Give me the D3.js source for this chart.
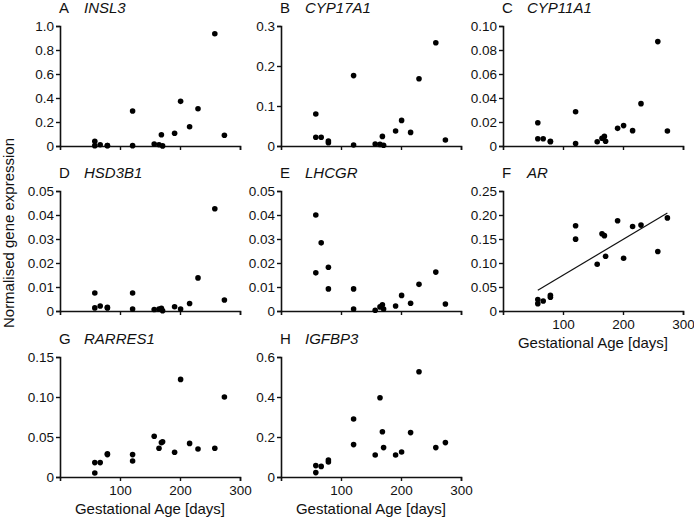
<!DOCTYPE html>
<html><head><meta charset="utf-8">
<script src="https://cdn.jsdelivr.net/npm/d3@7"></script>
<style>
html,body{margin:0;padding:0;background:#fff;}
text{font-family:"Liberation Sans",Arial,sans-serif;fill:#111;}
</style></head>
<body><svg id="chart" width="694" height="524"></svg>
<script>
// Gestational age (days) of each sample
const days = [58, 58, 67, 79, 79, 121, 121, 157, 165, 169, 171, 191, 201, 216, 230, 258, 274];

// Normalised gene expression per gene (same sample order as days)
const INSL3   = [0.040, 0.003, 0.011, 0.004, 0.003, 0.292, 0.003, 0.017, 0.011, 0.094, 0.001, 0.106, 0.372, 0.161, 0.311, 0.936, 0.089];
const CYP17A1 = [0.080, 0.022, 0.022, 0.0125, 0.008, 0.176, 0.0025, 0.005, 0.004, 0.024, 0.002, 0.0375, 0.064, 0.034, 0.168, 0.258, 0.015];
const CYP11A1 = [0.0194, 0.006, 0.006, 0.004, 0.0035, 0.0286, 0.002, 0.0036, 0.0064, 0.008, 0.004, 0.0147, 0.017, 0.0128, 0.0353, 0.087, 0.0125];
const HSD3B1  = [0.0075, 0.0013, 0.0021, 0.0013, 0.0015, 0.0075, 0.0008, 0.0006, 0.0008, 0.0011, 0.0001, 0.0018, 0.0008, 0.0031, 0.0138, 0.0426, 0.0046];
const LHCGR   = [0.0159, 0.040, 0.0284, 0.0182, 0.0092, 0.0092, 0.0008, 0.0003, 0.0017, 0.0026, 0.0008, 0.0021, 0.0065, 0.0032, 0.0111, 0.0162, 0.0029];
const AR      = [0.0237, 0.0153, 0.0209, 0.0327, 0.0286, 0.1776, 0.1497, 0.0975, 0.161, 0.157, 0.114, 0.188, 0.110, 0.176, 0.179, 0.124, 0.194];
const RARRES1 = [0.005, 0.018, 0.018, 0.029, 0.028, 0.028, 0.020, 0.051, 0.036, 0.043, 0.044, 0.031, 0.122, 0.042, 0.035, 0.036, 0.100];
const IGFBP3  = [0.022, 0.057, 0.053, 0.085, 0.075, 0.290, 0.162, 0.110, 0.396, 0.226, 0.147, 0.110, 0.125, 0.222, 0.526, 0.147, 0.172];

// Panel letters, gene names, y-axis tick labels
const letters = ["A", "B", "C", "D", "E", "F", "G", "H"];
const genes   = ["INSL3", "CYP17A1", "CYP11A1", "HSD3B1", "LHCGR", "AR", "RARRES1", "IGFBP3"];
const series  = [INSL3, CYP17A1, CYP11A1, HSD3B1, LHCGR, AR, RARRES1, IGFBP3];
const yTicks = [
  ["0", "0.2", "0.4", "0.6", "0.8", "1.0"],
  ["0", "0.1", "0.2", "0.3"],
  ["0", "0.02", "0.04", "0.06", "0.08", "0.10"],
  ["0", "0.01", "0.02", "0.03", "0.04", "0.05"],
  ["0", "0.01", "0.02", "0.03", "0.04", "0.05"],
  ["0", "0.05", "0.10", "0.15", "0.20", "0.25"],
  ["0", "0.05", "0.10", "0.15"],
  ["0", "0.2", "0.4", "0.6"]
];
const xTicks = [100, 200, 300];
const xTitle = "Gestational Age [days]";
const yTitle = "Normalised gene expression";
const regressionPanel = "AR";

// layout
const colX = [60, 281, 503];
const rowY = [26, 191, 357];
const pw = 180, ph = 120;
const svg = d3.select("#chart");

series.forEach((vals, i) => {
  const col = i % 3, row = Math.floor(i / 3);
  const g = svg.append("g").attr("transform", `translate(${colX[col]},${rowY[row]})`);
  const tickNums = yTicks[i].map(Number);
  const yMax = d3.max(tickNums);
  const x = d3.scaleLinear().domain([0, 300]).range([0, pw]);
  const y = d3.scaleLinear().domain([0, yMax]).range([ph, 0]);
  const showXLabels = i >= 5;

  const yAxis = g.append("g").call(d3.axisLeft(y).tickValues(tickNums)
      .tickFormat((d, k) => yTicks[i][k]).tickSizeOuter(0).tickSize(4).tickPadding(2));
  const xAxis = g.append("g").attr("transform", `translate(0,${ph})`)
      .call(d3.axisBottom(x).tickValues(xTicks).tickSizeOuter(0).tickSize(4).tickPadding(4)
        .tickFormat(showXLabels ? d3.format("d") : () => ""));
  [yAxis, xAxis].forEach(a => {
    a.select(".domain").attr("stroke", "#111").attr("stroke-width", 1.6);
    a.selectAll(".tick line").attr("stroke", "#111").attr("stroke-width", 1.4);
    a.selectAll("text").attr("font-size", 13.5).attr("fill", "#111")
      .attr("font-family", "Liberation Sans, Arial, sans-serif");
  });

  g.selectAll("circle.pt").data(vals).join("circle").attr("class", "pt")
    .attr("cx", (d, k) => x(days[k])).attr("cy", d => y(d)).attr("r", 2.8).attr("fill", "#000");

  if (genes[i] === regressionPanel) {
    const mx = d3.mean(days), my = d3.mean(vals);
    const sxy = d3.sum(days, (d, k) => (d - mx) * (vals[k] - my));
    const sxx = d3.sum(days, d => (d - mx) * (d - mx));
    const b = sxy / sxx, a0 = my - b * mx;
    const ext = d3.extent(days);
    g.append("line").attr("x1", x(ext[0])).attr("y1", y(a0 + b * ext[0]))
      .attr("x2", x(ext[1])).attr("y2", y(a0 + b * ext[1]))
      .attr("stroke", "#111").attr("stroke-width", 1.2);
  }

  const title = g.append("text").attr("x", -1).attr("y", -13).attr("font-size", 15);
  title.append("tspan").text(letters[i]);
  title.append("tspan").attr("x", 24).attr("font-style", "italic").text(genes[i]);

  if (showXLabels) {
    g.append("text").attr("x", pw / 2).attr("y", ph + 37).attr("text-anchor", "middle")
      .attr("font-size", 15).text(xTitle);
  }
});

svg.append("text").attr("transform", "translate(14,233) rotate(-90)")
  .attr("text-anchor", "middle").attr("font-size", 15).text(yTitle);
</script>
</body></html>
